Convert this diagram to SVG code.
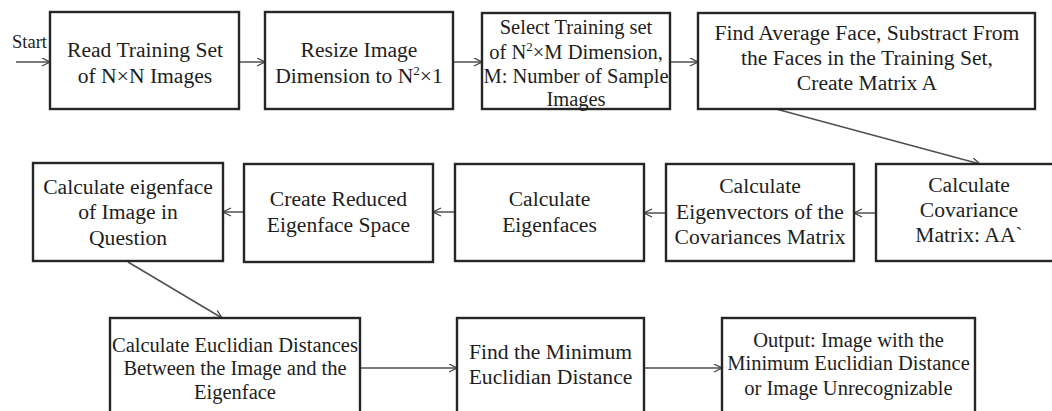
<svg xmlns="http://www.w3.org/2000/svg" width="1052" height="411" viewBox="0 0 1052 411">
  <defs>
    <marker id="arr" markerWidth="10" markerHeight="10" refX="9" refY="4.5" orient="auto" markerUnits="userSpaceOnUse">
      <path d="M1,0.5 L9,4.5 L1,8.5" fill="none" stroke="#444" stroke-width="1.3"/>
    </marker>
  </defs>
  <style>
    .box { fill: #fff; stroke: #262626; stroke-width: 2.4; }
    .t { font-family: "Liberation Serif", "Times New Roman", serif; font-size: 21.6px; fill: #1e1e1e; text-anchor: middle; }
    .s { font-size: 20.5px; }
    .conn { fill: none; stroke: #505050; stroke-width: 1.5; marker-end: url(#arr); }
  </style>
  <rect width="1052" height="411" fill="#fff"/>

  <g id="connectors">
    <line class="conn" x1="16" y1="62" x2="50" y2="62"/>
    <line class="conn" x1="239" y1="62" x2="265" y2="62"/>
    <line class="conn" x1="453" y1="62" x2="482" y2="62"/>
    <line class="conn" x1="670" y1="62" x2="698" y2="62"/>
    <line class="conn" x1="776" y1="109" x2="980" y2="164"/>
    <line class="conn" x1="876" y1="213" x2="854" y2="213"/>
    <line class="conn" x1="666" y1="213" x2="644" y2="213"/>
    <line class="conn" x1="455" y1="212" x2="433" y2="212"/>
    <line class="conn" x1="244" y1="212" x2="223" y2="212"/>
    <line class="conn" x1="128" y1="262" x2="222" y2="318"/>
    <line class="conn" x1="360" y1="368" x2="457" y2="368"/>
    <line class="conn" x1="644" y1="368" x2="722" y2="368"/>
  </g>

  <text class="t" x="29.5" y="48" style="font-size:18.5px">Start</text>

  <g id="n1">
    <rect class="box" x="50" y="12" width="189" height="97"/>
    <text class="t" x="145" y="57">Read Training Set</text>
    <text class="t" x="145" y="83">of N×N Images</text>
  </g>
  <g id="n2">
    <rect class="box" x="265" y="12" width="188" height="97"/>
    <text class="t" x="359" y="57">Resize Image</text>
    <text class="t" x="359" y="83">Dimension to N<tspan font-size="13" dy="-8">2</tspan><tspan dy="8">×1</tspan></text>
  </g>
  <g id="n3">
    <rect class="box" x="482" y="13" width="188" height="96"/>
    <text class="t s" x="576" y="34">Select Training set</text>
    <text class="t s" x="576" y="59">of N<tspan font-size="13" dy="-8">2</tspan><tspan dy="8">×M Dimension,</tspan></text>
    <text class="t s" x="576" y="83">M: Number of Sample</text>
    <text class="t s" x="576" y="106">Images</text>
  </g>
  <g id="n4">
    <rect class="box" x="698" y="13" width="337" height="96"/>
    <text class="t" x="867" y="40">Find Average Face, Substract From</text>
    <text class="t" x="867" y="65">the Faces in the Training Set,</text>
    <text class="t" x="867" y="90">Create Matrix A</text>
  </g>

  <g id="n5">
    <rect class="box" x="876" y="164" width="186" height="97"/>
    <text class="t" x="969" y="192">Calculate</text>
    <text class="t" x="969" y="217">Covariance</text>
    <text class="t" x="969" y="242">Matrix: AA`</text>
  </g>
  <g id="n6">
    <rect class="box" x="666" y="164" width="188" height="97"/>
    <text class="t" x="760" y="193">Calculate</text>
    <text class="t" x="760" y="219">Eigenvectors of the</text>
    <text class="t" x="760" y="244">Covariances Matrix</text>
  </g>
  <g id="n7">
    <rect class="box" x="455" y="164" width="189" height="97"/>
    <text class="t" x="549.5" y="206">Calculate</text>
    <text class="t" x="549.5" y="232">Eigenfaces</text>
  </g>
  <g id="n8">
    <rect class="box" x="244" y="164" width="189" height="98"/>
    <text class="t" x="338.5" y="206">Create Reduced</text>
    <text class="t" x="338.5" y="232">Eigenface Space</text>
  </g>
  <g id="n9">
    <rect class="box" x="33" y="163" width="190" height="98"/>
    <text class="t" x="128" y="194">Calculate eigenface</text>
    <text class="t" x="128" y="219">of Image in</text>
    <text class="t" x="128" y="245">Question</text>
  </g>

  <g id="n10">
    <rect class="box" x="110" y="318" width="250" height="110"/>
    <text class="t s" x="235" y="352">Calculate Euclidian Distances</text>
    <text class="t s" x="235" y="375">Between the Image and the</text>
    <text class="t s" x="235" y="399">Eigenface</text>
  </g>
  <g id="n11">
    <rect class="box" x="457" y="318" width="187" height="110"/>
    <text class="t" x="550.5" y="359">Find the Minimum</text>
    <text class="t" x="550.5" y="384">Euclidian Distance</text>
  </g>
  <g id="n12">
    <rect class="box" x="722" y="318" width="253" height="110"/>
    <text class="t s" x="848.5" y="347">Output: Image with the</text>
    <text class="t s" x="848.5" y="370">Minimum Euclidian Distance</text>
    <text class="t s" x="848.5" y="395">or Image Unrecognizable</text>
  </g>
</svg>
